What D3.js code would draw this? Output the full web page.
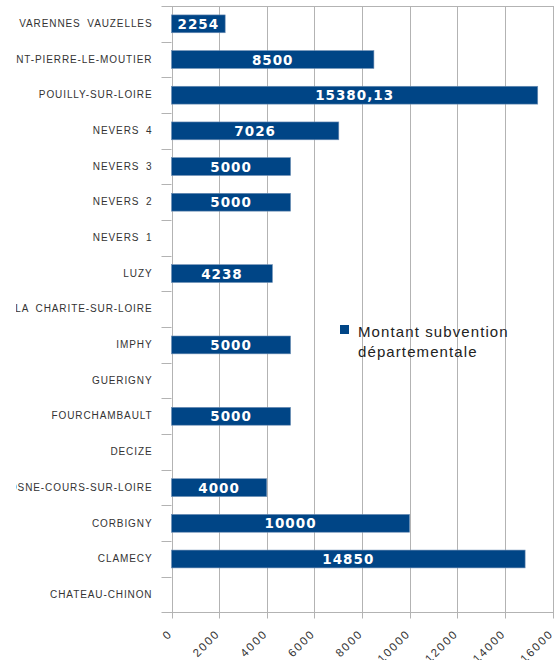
<!DOCTYPE html>
<html><head><meta charset="utf-8">
<script src="https://cdn.jsdelivr.net/npm/d3@7/dist/d3.min.js"></script>
<style>
html,body{margin:0;padding:0;background:#fff;}
svg{display:block;}
</style></head>
<body>
<svg id="chart" width="558" height="660"></svg>
<script>
const categories = ["VARENNES VAUZELLES","SAINT-PIERRE-LE-MOUTIER","POUILLY-SUR-LOIRE","NEVERS 4","NEVERS 3","NEVERS 2","NEVERS 1","LUZY","LA CHARITE-SUR-LOIRE","IMPHY","GUERIGNY","FOURCHAMBAULT","DECIZE","COSNE-COURS-SUR-LOIRE","CORBIGNY","CLAMECY","CHATEAU-CHINON"];
const values = [2254, 8500, 15380.13, 7026, 5000, 5000, null, 4238, null, 5000, null, 5000, null, 4000, 10000, 14850, null];
const xTicks = [0, 2000, 4000, 6000, 8000, 10000, 12000, 14000, 16000];
const seriesName = ["Montant subvention", "départementale"];

const svg = d3.select("#chart");
const mLeft = 171.5, mRight = 552.5, mTop = 6, mBottom = 612.5;
const x = d3.scaleLinear().domain([0, 16000]).range([mLeft, mRight]);
const y = d3.scaleBand().domain(categories).range([mTop, mBottom]).paddingInner(0.5).paddingOuter(0.25);
const blue = "#004586", grid = "#b3b3b3";

svg.append("defs").append("clipPath").attr("id", "labclip")
  .append("rect").attr("x", 16).attr("y", 0).attr("width", mLeft - 16).attr("height", 660);

// gridlines
svg.append("g").selectAll("line").data(xTicks).join("line")
  .attr("x1", d => Math.round(x(d)) + 0.5).attr("x2", d => Math.round(x(d)) + 0.5)
  .attr("y1", mTop).attr("y2", mBottom + 6)
  .attr("stroke", grid).attr("stroke-width", 1);
// top frame line
svg.append("line").attr("x1", mLeft - 10).attr("x2", mRight + 1).attr("y1", mTop + 0.5).attr("y2", mTop + 0.5)
  .attr("stroke", grid);
// bottom axis
svg.append("line").attr("x1", mLeft - 10).attr("x2", mRight + 1).attr("y1", mBottom).attr("y2", mBottom)
  .attr("stroke", grid);
// left axis
const yAxis = d3.axisLeft(y).tickSize(0).tickPadding(19);
const gy = svg.append("g").attr("clip-path", "url(#labclip)")
  .append("g").attr("transform", `translate(${mLeft},0)`).call(yAxis);
gy.select(".domain").attr("stroke", grid);
gy.selectAll("text").attr("font-family", "Liberation Sans, Arial, sans-serif")
  .attr("font-size", 10).attr("fill", "#333").attr("letter-spacing", 0.9).attr("word-spacing", 3);
// band boundary ticks
const bounds = categories.map(c => y(c) - y.step() * y.paddingInner() / 2).slice(1);
svg.append("g").selectAll("line").data(bounds).join("line")
  .attr("x1", mLeft - 10).attr("x2", mLeft).attr("y1", d => Math.round(d) + 0.5).attr("y2", d => Math.round(d) + 0.5)
  .attr("stroke", grid);

// x tick labels
svg.append("g").selectAll("text").data(xTicks).join("text")
  .attr("transform", d => `translate(${x(d) + 1.5},${mBottom + 22}) rotate(-45)`)
  .attr("text-anchor", "end")
  .attr("font-family", "Liberation Sans, Arial, sans-serif")
  .attr("font-size", 11.5).attr("letter-spacing", 1.8).attr("fill", "#333")
  .text(d => d);

// bars
const fmt = v => String(v).replace(".", ",");
const data = categories.map((c, i) => ({c, v: values[i]})).filter(d => d.v != null);
svg.append("g").selectAll("rect").data(data).join("rect")
  .attr("x", x(0)).attr("y", d => y(d.c)).attr("width", d => x(d.v) - x(0)).attr("height", y.bandwidth())
  .attr("fill", blue).attr("stroke", "#6f8fb5").attr("stroke-width", 0.6);
svg.append("g").selectAll("text").data(data).join("text")
  .attr("x", d => (x(0) + x(d.v)) / 2).attr("y", d => y(d.c) + y.bandwidth() / 2 + 5)
  .attr("text-anchor", "middle").attr("fill", "#fff")
  .attr("font-family", "DejaVu Sans, sans-serif").attr("font-weight", "bold")
  .attr("font-size", 13.5).attr("letter-spacing", 1)
  .text(d => fmt(d.v));

// legend
const lg = svg.append("g").attr("transform", "translate(340,325)");
lg.append("rect").attr("x", 0).attr("y", 0).attr("width", 9).attr("height", 9).attr("fill", blue);
lg.append("text").attr("x", 18).attr("y", 11.5)
  .attr("font-family", "Liberation Sans, Arial, sans-serif").attr("font-size", 15)
  .attr("letter-spacing", 1.1).attr("fill", "#222")
  .selectAll("tspan").data(seriesName).join("tspan")
  .attr("x", 18).attr("dy", (d, i) => i === 0 ? 0 : 20).text(d => d);
</script>
</body></html>
